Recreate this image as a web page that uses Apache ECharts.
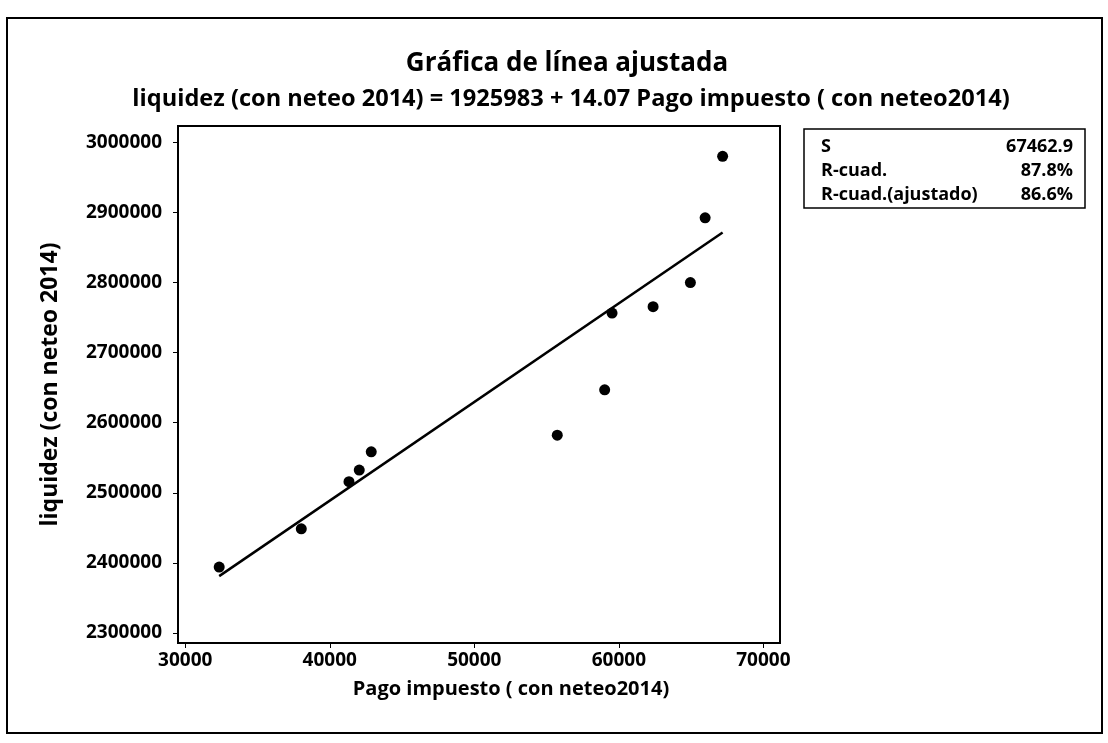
<!DOCTYPE html>
<html>
<head>
<meta charset="utf-8">
<script src="https://cdn.jsdelivr.net/npm/echarts@6/dist/echarts.min.js"></script>
<style>
html,body{margin:0;padding:0;background:#fff;}
#chart{width:1108px;height:743px;}
</style>
</head>
<body>
<div id="chart"></div>
<script>
// ---- data ----
const pagoImpuesto = [32350, 38030, 41330, 42040, 42870, 55740, 59020, 59530, 62370, 64950, 65970, 67180];
const liquidez     = [2394100, 2448600, 2515800, 2532400, 2558400, 2582100, 2646800, 2756200, 2765300, 2799800, 2892100, 2979700];
const intercept = 1925983;
const slope = 14.07;
const xTicks = [30000, 40000, 50000, 60000, 70000];
const yTicks = [2300000, 2400000, 2500000, 2600000, 2700000, 2800000, 2900000, 3000000];
const statLabels = ['S', 'R-cuad.', 'R-cuad.(ajustado)'];
const statValues = ['67462.9', '87.8%', '86.6%'];
const titleText = 'Gráfica de línea ajustada';
const subtitleText = 'liquidez (con neteo 2014) = 1925983 + 14.07 Pago impuesto ( con neteo2014)';
const xName = 'Pago impuesto ( con neteo2014)';
const yName = 'liquidez (con neteo 2014)';

const FONT = '"Open Sans", "DejaVu Sans", sans-serif';
const points = pagoImpuesto.map((x, i) => [x, liquidez[i]]);
const xMin = Math.min(...pagoImpuesto), xMax = Math.max(...pagoImpuesto);
const fitLine = [[xMin, intercept + slope * xMin], [xMax, intercept + slope * xMax]];

const chart = echarts.init(document.getElementById('chart'), null, {renderer: 'canvas'});

const statGraphics = [];
statLabels.forEach((lab, i) => {
  statGraphics.push({type: 'text', x: 821, y: 147 + i * 24,
    style: {text: lab, font: 'bold 18px ' + FONT, fill: '#000', verticalAlign: 'middle'}});
  statGraphics.push({type: 'text', x: 1073, y: 147 + i * 24,
    style: {text: statValues[i], font: 'bold 18px ' + FONT, fill: '#000', align: 'right', verticalAlign: 'middle'}});
});

chart.setOption({
  backgroundColor: '#fff',
  animation: false,
  title: [
    {text: titleText, left: 562, top: 46, textAlign: 'center',
     textStyle: {fontFamily: FONT, fontSize: 26, fontWeight: 'bold', color: '#000'}},
    {text: subtitleText, left: 566, top: 82, textAlign: 'center',
     textStyle: {fontFamily: FONT, fontSize: 23.6, fontWeight: 'bold', color: '#000'}}
  ],
  grid: {left: 178, right: 328, top: 126, bottom: 100, show: true,
         borderColor: '#000', borderWidth: 2, backgroundColor: '#fff'},
  xAxis: {
    type: 'value', min: 29500, max: 71150,
    name: xName, nameLocation: 'middle', nameGap: 36,
    nameTextStyle: {fontFamily: FONT, fontSize: 20, fontWeight: 'bold', color: '#000', padding: [0, 0, 0, 64]},
    axisLine: {show: true, onZero: false, lineStyle: {color: '#000', width: 2}},
    axisTick: {show: true, customValues: xTicks, length: 5, lineStyle: {color: '#000'}},
    axisLabel: {customValues: xTicks, formatter: v => String(v), fontFamily: FONT, fontSize: 19, fontWeight: 'bold', color: '#000', margin: 8},
    splitLine: {show: false}
  },
  yAxis: {
    type: 'value', min: 2285800, max: 3023000,
    name: yName, nameLocation: 'middle', nameGap: 116,
    nameTextStyle: {fontFamily: FONT, fontSize: 23, fontWeight: 'bold', color: '#000'},
    axisLine: {show: true, onZero: false, lineStyle: {color: '#000', width: 2}},
    axisTick: {show: true, customValues: yTicks, length: 5, lineStyle: {color: '#000'}},
    axisLabel: {customValues: yTicks, formatter: v => String(v), fontFamily: FONT, fontSize: 19, fontWeight: 'bold', color: '#000', margin: 16},
    splitLine: {show: false}
  },
  series: [
    {type: 'line', data: fitLine, symbol: 'none', silent: true,
     lineStyle: {color: '#000', width: 2.5}},
    {type: 'scatter', data: points, symbol: 'circle', symbolSize: 11,
     itemStyle: {color: '#000', opacity: 1}}
  ],
  graphic: [
    {type: 'rect', shape: {x: 7, y: 18, width: 1095, height: 715},
     style: {fill: 'none', stroke: '#000', lineWidth: 2}, z: 100},
    {type: 'rect', shape: {x: 804, y: 129, width: 281, height: 79},
     style: {fill: '#fff', stroke: '#000', lineWidth: 1.5}},
    ...statGraphics
  ]
});
</script>
</body>
</html>
